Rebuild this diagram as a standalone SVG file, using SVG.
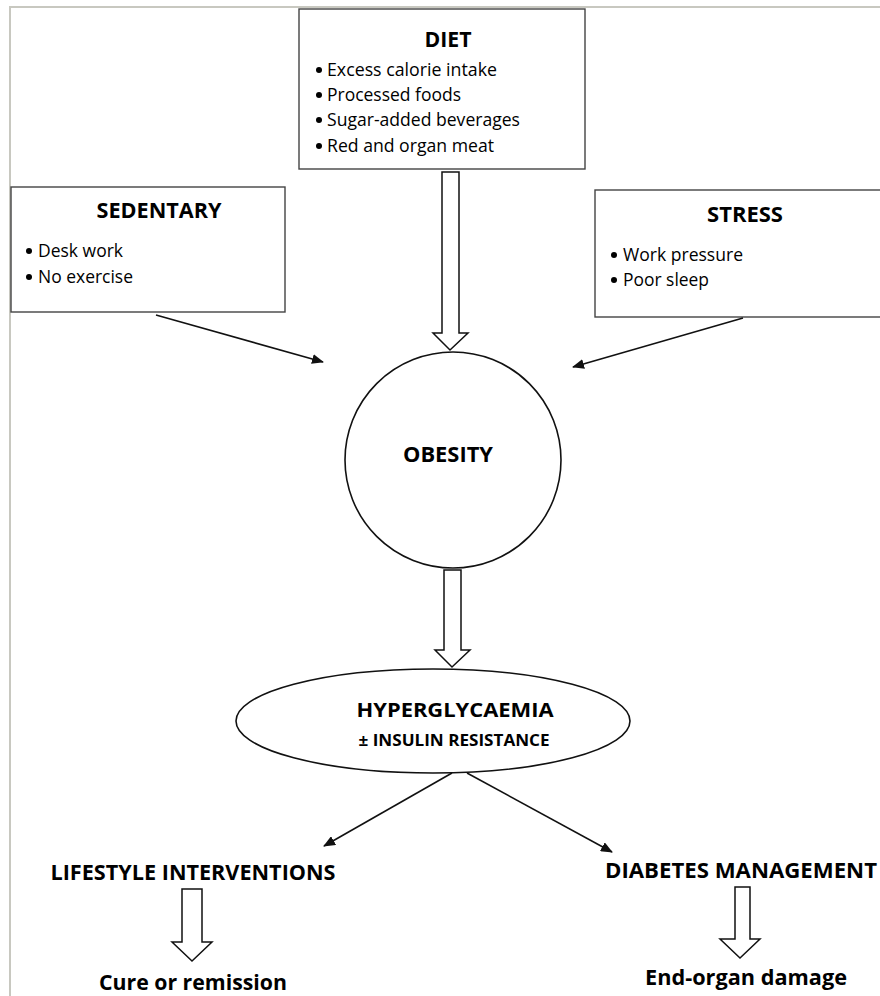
<svg xmlns="http://www.w3.org/2000/svg" width="880" height="996" viewBox="0 0 880 996">
<style>
.box{fill:#fff;stroke:#444;stroke-width:1.4}
.shape{fill:#fff;stroke:#111;stroke-width:1.6}
.blk{fill:#fff;stroke:#111;stroke-width:1.5;stroke-linejoin:miter}
.t{font-family:"Open Sans","Liberation Sans",Arial,sans-serif;fill:#000}
.h{font-weight:bold;font-size:21.5px;text-anchor:middle}
.n{font-size:17.5px}
.bul{fill:#000}
.ln{stroke:#111;stroke-width:1.6;fill:none;marker-end:url(#ah)}
</style>
<defs>
<marker id="ah" viewBox="0 0 12 10" refX="11" refY="5" markerWidth="12" markerHeight="10" markerUnits="userSpaceOnUse" orient="auto">
<path d="M0,0 L12,5 L0,10 Z" fill="#111"/>
</marker>
</defs>
<rect width="880" height="996" fill="#fff"/>
<path d="M10,996 V7 H880" fill="none" stroke="#c8c8c0" stroke-width="2"/>

<g id="diet">
<rect class="box" x="299" y="9" width="286" height="160"/>
<text class="t h" x="448" y="47" textLength="47" lengthAdjust="spacingAndGlyphs">DIET</text>
<circle class="bul" cx="319" cy="70" r="3"/>
<text class="t n" x="327" y="76" textLength="170" lengthAdjust="spacingAndGlyphs">Excess calorie intake</text>
<circle class="bul" cx="319" cy="95" r="3"/>
<text class="t n" x="327" y="101" textLength="134" lengthAdjust="spacingAndGlyphs">Processed foods</text>
<circle class="bul" cx="319" cy="120" r="3"/>
<text class="t n" x="327" y="126" textLength="193" lengthAdjust="spacingAndGlyphs">Sugar-added beverages</text>
<circle class="bul" cx="319" cy="146" r="3"/>
<text class="t n" x="327" y="152" textLength="167" lengthAdjust="spacingAndGlyphs">Red and organ meat</text>
</g>

<g id="sedentary">
<rect class="box" x="11" y="187" width="274" height="125"/>
<text class="t h" x="159" y="218" textLength="125" lengthAdjust="spacingAndGlyphs">SEDENTARY</text>
<circle class="bul" cx="29" cy="251" r="3"/>
<text class="t n" x="38" y="257" textLength="85" lengthAdjust="spacingAndGlyphs">Desk work</text>
<circle class="bul" cx="29" cy="277" r="3"/>
<text class="t n" x="38" y="283" textLength="95" lengthAdjust="spacingAndGlyphs">No exercise</text>
</g>

<g id="stress">
<rect class="box" x="595" y="190" width="300" height="127"/>
<text class="t h" x="745" y="222" textLength="76" lengthAdjust="spacingAndGlyphs">STRESS</text>
<circle class="bul" cx="614" cy="255" r="3"/>
<text class="t n" x="623" y="261" textLength="120" lengthAdjust="spacingAndGlyphs">Work pressure</text>
<circle class="bul" cx="614" cy="280" r="3"/>
<text class="t n" x="623" y="286" textLength="86" lengthAdjust="spacingAndGlyphs">Poor sleep</text>
</g>

<g id="obesity">
<circle class="shape" cx="453" cy="460" r="108"/>
<text class="t h" x="448" y="462" textLength="90" lengthAdjust="spacingAndGlyphs">OBESITY</text>
</g>

<g id="hyperglycaemia">
<ellipse class="shape" cx="433" cy="721" rx="197" ry="52"/>
<text class="t h" x="455" y="717" style="font-size:20px" textLength="197" lengthAdjust="spacingAndGlyphs">HYPERGLYCAEMIA</text>
<text class="t h" x="454" y="746" style="font-size:16px" textLength="191" lengthAdjust="spacingAndGlyphs">± INSULIN RESISTANCE</text>
</g>

<g id="lifestyle">
<text class="t h" x="193" y="880" style="font-size:21.5px" textLength="285" lengthAdjust="spacingAndGlyphs">LIFESTYLE INTERVENTIONS</text>
</g>

<g id="diabetes">
<text class="t h" x="741" y="878" style="font-size:21.5px" textLength="272" lengthAdjust="spacingAndGlyphs">DIABETES MANAGEMENT</text>
</g>

<g id="cure">
<text class="t h" x="193" y="990" style="font-size:21.5px" textLength="188" lengthAdjust="spacingAndGlyphs">Cure or remission</text>
</g>

<g id="damage">
<text class="t h" x="746" y="985" style="font-size:21.5px" textLength="202" lengthAdjust="spacingAndGlyphs">End-organ damage</text>
</g>

<g id="connectors">
<path class="blk" d="M442,172 H459 V333 H468 L450,350 L433,333 H442 Z"/>
<path class="blk" d="M444,570 H461 V650 H470 L452,667 L435,650 H444 Z"/>
<path class="blk" d="M182,889 H202 V942 H212 L192,961 L172,942 H182 Z"/>
<path class="blk" d="M735,887 H750 V939 H760 L740,958 L720,939 H735 Z"/>
<line class="ln" x1="156" y1="315" x2="323" y2="362"/>
<line class="ln" x1="743" y1="318" x2="573" y2="367"/>
<line class="ln" x1="452" y1="773" x2="324" y2="846"/>
<line class="ln" x1="467" y1="773" x2="612" y2="852"/>
</g>
</svg>
